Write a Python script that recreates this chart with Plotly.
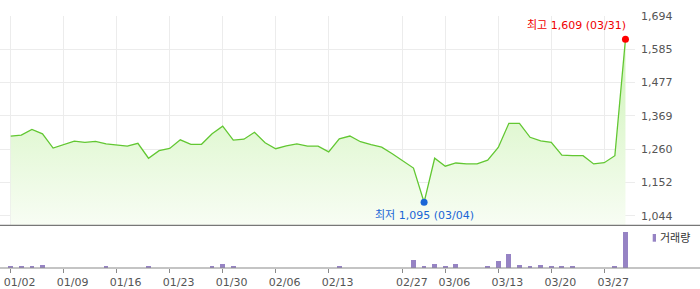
import numpy as np
import plotly.graph_objects as go

# ---- data ----
dates = ["01/02", "01/03", "01/06", "01/07", "01/08", "01/09", "01/10", "01/13", "01/14", "01/15",
         "01/16", "01/17", "01/20", "01/21", "01/22", "01/23", "01/24", "01/27", "01/28", "01/29",
         "01/30", "01/31", "02/03", "02/04", "02/05", "02/06", "02/07", "02/10", "02/11", "02/12",
         "02/13", "02/14", "02/17", "02/18", "02/19", "02/20", "02/21", "02/27", "02/28", "03/04",
         "03/05", "03/06", "03/07", "03/10", "03/11", "03/12", "03/13", "03/14", "03/17", "03/18",
         "03/19", "03/20", "03/21", "03/24", "03/25", "03/26", "03/27", "03/28", "03/31"]

price = [1304, 1307, 1325, 1311, 1266, 1278, 1288, 1284, 1287, 1279,
         1276, 1272, 1281, 1234, 1258, 1265, 1292, 1278, 1278, 1311,
         1335, 1291, 1294, 1316, 1283, 1264, 1273, 1279, 1272, 1272,
         1254, 1295, 1304, 1286, 1277, 1269, 1248, 1225, 1203, 1095,
         1234, 1209, 1219, 1216, 1216, 1228, 1268, 1344, 1344, 1300,
         1289, 1284, 1244, 1242, 1242, 1216, 1220, 1242, 1609]

volume = [50000, 50000, 50000, 115000, 0, 0, 0, 0, 0, 50000,
          0, 0, 0, 50000, 0, 0, 0, 0, 0, 50000,
          165000, 50000, 0, 0, 0, 0, 0, 0, 0, 0,
          0, 50000, 0, 0, 0, 0, 0, 0, 365000, 65000,
          165000, 65000, 165000, 0, 0, 65000, 315000, 685000, 115000, 65000,
          115000, 65000, 65000, 65000, 0, 0, 0, 65000, 1815000]

x_tick_labels = ["01/02", "01/09", "01/16", "01/23", "01/30", "02/06", "02/13",
                 "02/27", "03/06", "03/13", "03/20", "03/27"]
y_tick_labels = ["1,044", "1,152", "1,260", "1,369", "1,477", "1,585", "1,694"]

# ---- layout helpers ----
W, H = 700, 289
PL, PR, PT, PB = 0, 65, 16, 21
plot_w = W - PL - PR
plot_h = H - PT - PB
split_px = 225.3  # separator between price and volume panes


def px_x(x):
    return (x - PL) / plot_w


def px_y(y):
    return (H - PB - y) / plot_h


vol_top = px_y(split_px)

y_range = [1022.5, 1682.5]
y_ticks = list(np.linspace(1052.8, 1682.5, len(y_tick_labels)))

imax = int(np.argmax(price))
imin = int(np.argmin(price))

LINE = "#62c732"
GRID = "#ececec"
FONT = "DejaVu Sans, Noto Sans CJK KR, sans-serif"

fig = go.Figure()

fig.add_trace(go.Scatter(
    x=dates, y=price, mode="lines",
    line=dict(color=LINE, width=1.3),
    fill="tozeroy",
    fillgradient=dict(type="vertical", start=y_range[0], stop=max(price),
                      colorscale=[[0, "rgba(248,253,244,1)"], [1, "rgba(205,243,182,1)"]]),
    xaxis="x", yaxis="y", hoverinfo="skip", showlegend=False,
))

fig.add_trace(go.Scatter(
    x=[dates[imax]], y=[price[imax]], mode="markers",
    marker=dict(color="#ff0000", size=7), xaxis="x", yaxis="y", showlegend=False,
))
fig.add_trace(go.Scatter(
    x=[dates[imin]], y=[price[imin]], mode="markers",
    marker=dict(color="#1a66d6", size=7), xaxis="x", yaxis="y", showlegend=False,
))

fig.add_trace(go.Bar(
    x=dates, y=volume, marker=dict(color="#9683c4", line=dict(width=0)),
    width=0.45, xaxis="x2", yaxis="y2", showlegend=False,
))

fig.add_annotation(
    x=dates[imax], y=price[imax], xref="x", yref="y",
    text=f"최고 {price[imax]:,} ({dates[imax]})", showarrow=False,
    xanchor="right", yanchor="middle", xshift=3, yshift=14,
    font=dict(family=FONT, size=11, color="#f00000"),
)
fig.add_annotation(
    x=dates[imin], y=price[imin], xref="x", yref="y",
    text=f"최저 {price[imin]:,} ({dates[imin]})", showarrow=False,
    xanchor="center", yanchor="middle", yshift=-13,
    font=dict(family=FONT, size=11, color="#1a66d6"),
)

# legend for volume
fig.add_shape(type="rect", xref="paper", yref="paper",
              x0=px_x(652.7), x1=px_x(656), y0=px_y(241.7), y1=px_y(234),
              fillcolor="#9683c4", line=dict(width=0))
fig.add_annotation(x=px_x(658), y=px_y(238), xref="paper", yref="paper",
                   text="거래량", showarrow=False, xanchor="left", yanchor="middle",
                   font=dict(family=FONT, size=11, color="#333333"))

# separator and baseline lines across full width
fig.add_shape(type="line", xref="paper", yref="paper",
              x0=px_x(0), x1=px_x(W), y0=px_y(split_px), y1=px_y(split_px),
              line=dict(color="#777777", width=1.3))
fig.add_shape(type="line", xref="paper", yref="paper",
              x0=px_x(0), x1=px_x(W), y0=0, y1=0,
              line=dict(color="#8a8a8a", width=1.2))

n = len(dates)
x_range = [-1.01, n - 1 + 0.9]

fig.update_layout(
    width=W, height=H,
    margin=dict(l=PL, r=PR, t=PT, b=PB, pad=0),
    paper_bgcolor="white", plot_bgcolor="white",
    font=dict(family=FONT, size=11, color="#555555"),
    bargap=0,
    xaxis=dict(type="category", domain=[0, 1], anchor="y", range=x_range,
               categoryorder="array", categoryarray=dates,
               tickvals=x_tick_labels, showticklabels=False, ticks="",
               showgrid=True, gridcolor=GRID, gridwidth=1,
               showline=False, zeroline=False),
    yaxis=dict(domain=[vol_top, 1], range=y_range, side="right",
               tickvals=y_ticks, ticktext=y_tick_labels,
               showgrid=True, gridcolor=GRID, gridwidth=1, zeroline=False,
               ticks="", ticklabelstandoff=5,
               tickfont=dict(family=FONT, size=11, color="#555555")),
    xaxis2=dict(type="category", domain=[0, 1], anchor="y2", range=x_range,
                categoryorder="array", categoryarray=dates,
                tickvals=x_tick_labels, ticktext=x_tick_labels,
                showgrid=False, ticks="outside", ticklen=4, tickcolor="#8a8a8a",
                tickwidth=1, showline=False, zeroline=False,
                ticklabelshift=9,
                tickfont=dict(family=FONT, size=11, color="#555555")),
    yaxis2=dict(domain=[0, vol_top], range=[0, max(volume) * 43 / 36.3],
                showgrid=False, showticklabels=False, zeroline=False, ticks=""),
)

fig.write_html("out.html")
